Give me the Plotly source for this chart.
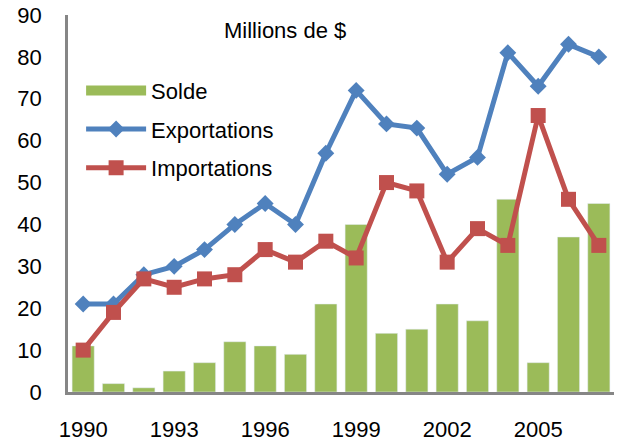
import plotly.graph_objects as go

years = list(range(1990, 2008))
solde = [11, 2, 1, 5, 7, 12, 11, 9, 21, 40, 14, 15, 21, 17, 46, 7, 37, 45]
exportations = [21, 21, 28, 30, 34, 40, 45, 40, 57, 72, 64, 63, 52, 56, 81, 73, 83, 80]
importations = [10, 19, 27, 25, 27, 28, 34, 31, 36, 32, 50, 48, 31, 39, 35, 66, 46, 35]
year_ticks = [1990, 1993, 1996, 1999, 2002, 2005]

_FONT = "Liberation Sans, Arial, sans-serif"
_AXIS = "#868686"
_GREEN = "#9BBB59"

fig = go.Figure()
fig.add_trace(go.Bar(
    x=years, y=solde, name="Solde", legendgroup="s", showlegend=False,
    marker=dict(color=_GREEN),
))
# wide legend swatch for the bars (Excel style)
fig.add_trace(go.Scatter(
    x=[None], y=[None], name="Solde", legendgroup="s",
    mode="lines", line=dict(color=_GREEN, width=11),
))
fig.add_trace(go.Scatter(
    x=years, y=exportations, name="Exportations", legendgroup="e",
    mode="lines+markers",
    line=dict(color="#4F81BD", width=5),
    marker=dict(symbol="diamond", size=13, color="#4F81BD"),
))
fig.add_trace(go.Scatter(
    x=years, y=importations, name="Importations", legendgroup="i",
    mode="lines+markers",
    line=dict(color="#C0504D", width=5),
    marker=dict(symbol="square", size=15, color="#C0504D"),
))

fig.add_annotation(
    text="Millions de $", xref="paper", yref="paper",
    x=0.397, y=0.96, xanchor="center", yanchor="middle",
    showarrow=False, font=dict(size=22, color="#000000"),
)

fig.update_layout(
    width=619, height=444,
    paper_bgcolor="white", plot_bgcolor="white",
    font=dict(family=_FONT, size=22, color="#000000"),
    margin=dict(l=68, r=5, t=15, b=52),
    bargap=0.27,
    showlegend=True,
    legend=dict(
        x=0.024, y=0.855, xanchor="left", yanchor="top",
        bgcolor="rgba(0,0,0,0)", font=dict(size=22),
        itemwidth=60, tracegroupgap=7,
    ),
    xaxis=dict(
        range=[1989.5, 2007.5], tickmode="array", tickvals=year_ticks,
        showgrid=False, zeroline=False, showline=True, automargin=False,
        linecolor=_AXIS, linewidth=2.5, ticks="", ticklabelstandoff=16,
    ),
    yaxis=dict(
        range=[0, 90], dtick=10,
        showgrid=False, zeroline=False, showline=True, automargin=False,
        linecolor=_AXIS, linewidth=2.5, ticks="", ticklabelstandoff=19,
    ),
)

fig.write_html("out.html", config={"displayModeBar": False},
               post_script="document.body.style.margin='0';")
